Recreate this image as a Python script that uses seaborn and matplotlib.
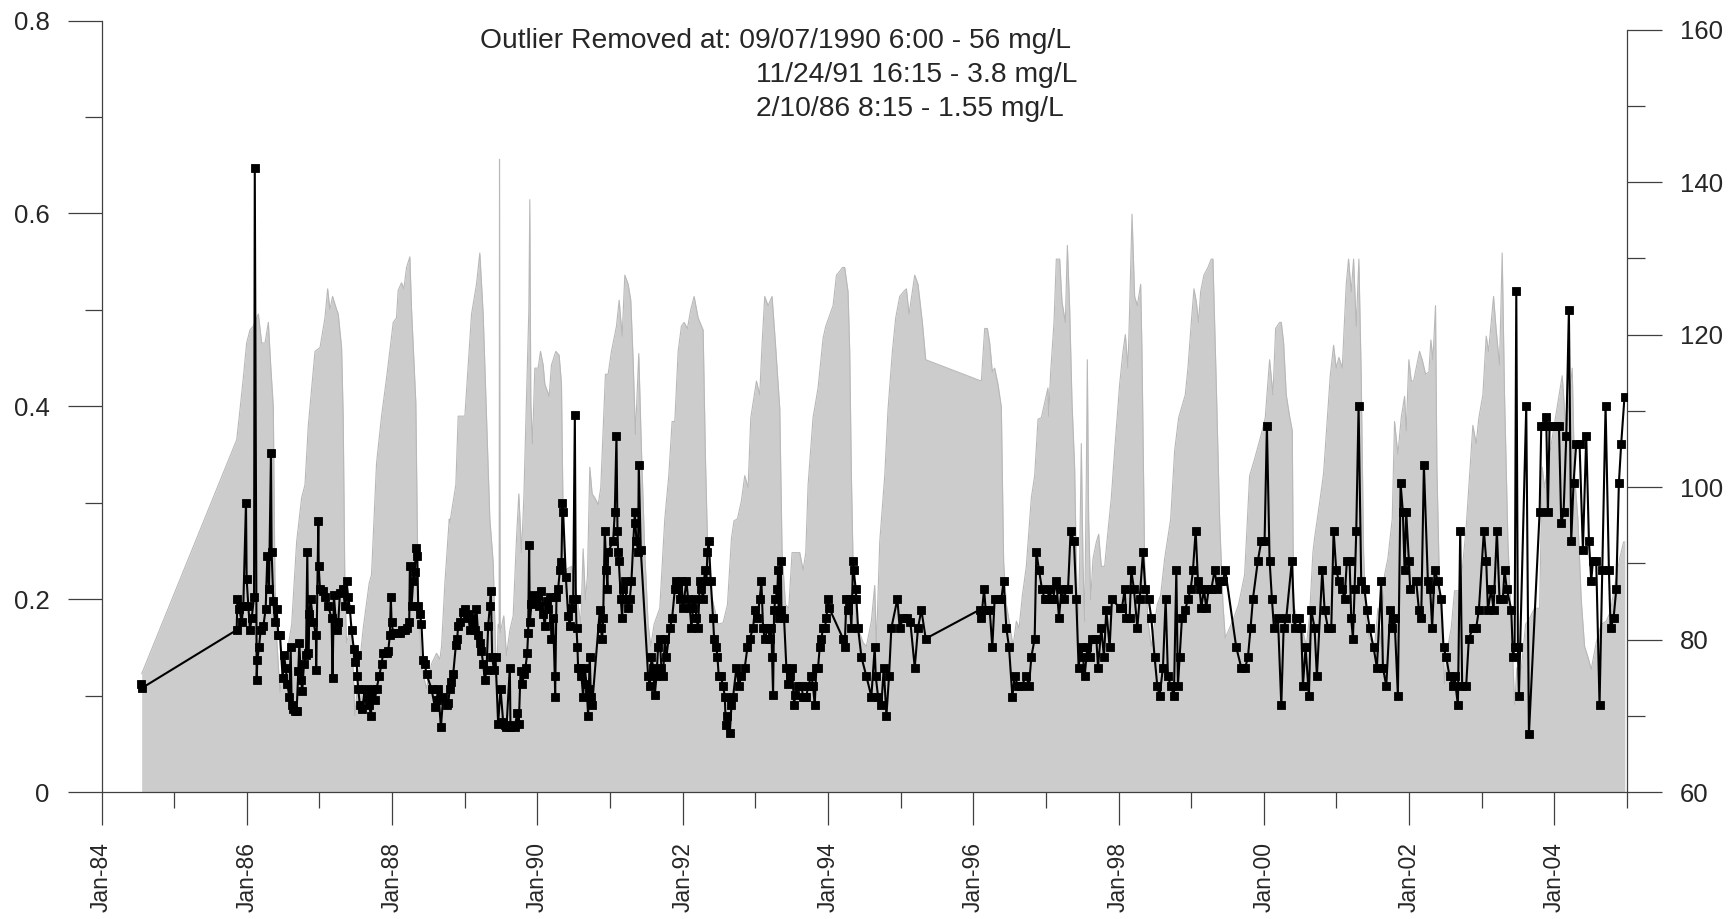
import numpy as np
import pandas as pd
import matplotlib
matplotlib.use('Agg')
import matplotlib.pyplot as plt
import seaborn as sns
from matplotlib.ticker import FixedLocator

# concentration (mg/L, left axis), decimal year of each sample
conc_year = [
    # 1984 - 1987
    1984.55, 1984.56, 1985.861, 1985.87, 1985.897, 1985.93, 1985.952, 1985.989, 1985.998, 1986.021,
    1986.044, 1986.067, 1986.10, 1986.11, 1986.136, 1986.145, 1986.168, 1986.191, 1986.228, 1986.26,
    1986.283, 1986.306, 1986.333, 1986.342, 1986.365, 1986.388, 1986.411, 1986.434, 1986.457, 1986.494,
    1986.512, 1986.535, 1986.558, 1986.586, 1986.604, 1986.618, 1986.641, 1986.664, 1986.686, 1986.709,
    1986.723, 1986.746, 1986.764, 1986.787, 1986.815, 1986.833, 1986.847, 1986.861, 1986.879, 1986.916,
    1986.952, 1986.955, 1986.985, 1986.99, 1987.008, 1987.044, 1987.076, 1987.122,
    # 1987 - 1990
    1987.167, 1987.181, 1987.199, 1987.236, 1987.259, 1987.282, 1987.327, 1987.35, 1987.373, 1987.396,
    1987.419, 1987.442, 1987.474, 1987.488, 1987.511, 1987.52, 1987.534, 1987.557, 1987.589, 1987.626,
    1987.649, 1987.685, 1987.708, 1987.731, 1987.763, 1987.786, 1987.823, 1987.855, 1987.878, 1987.924,
    1987.947, 1987.97, 1987.983, 1987.993, 1988.016, 1988.061, 1988.107, 1988.13, 1988.176, 1988.199,
    1988.236, 1988.245, 1988.268, 1988.291, 1988.314, 1988.327, 1988.346, 1988.36, 1988.383, 1988.405,
    1988.428, 1988.451, 1988.474, 1988.543, 1988.589, 1988.612, 1988.635, 1988.672, 1988.704, 1988.75,
    1988.772, 1988.795, 1988.818, 1988.841, 1988.878, 1988.896, 1988.91, 1988.933, 1988.97, 1989.002,
    1989.025, 1989.048, 1989.071, 1989.094, 1989.116, 1989.139, 1989.162, 1989.185, 1989.208, 1989.231,
    1989.254, 1989.277, 1989.3, 1989.323, 1989.346, 1989.36, 1989.378, 1989.401, 1989.424, 1989.46,
    1989.493, 1989.529, 1989.552, 1989.575, 1989.621, 1989.63, 1989.667, 1989.69, 1989.722, 1989.745,
    1989.768, 1989.795, 1989.814, 1989.837, 1989.86, 1989.873, 1989.887, 1989.896, 1989.919, 1989.942,
    1989.988, 1990.025, 1990.057, 1990.08, 1990.103, 1990.126, 1990.148, 1990.171, 1990.194, 1990.217,
    1990.24, 1990.245, 1990.263, 1990.286, 1990.309, 1990.332, 1990.346, 1990.355,
    # 1990 - 1993
    1990.392, 1990.424, 1990.447, 1990.47, 1990.493, 1990.516, 1990.529, 1990.539, 1990.552, 1990.561,
    1990.584, 1990.607, 1990.63, 1990.653, 1990.676, 1990.699, 1990.708, 1990.722, 1990.736, 1990.754,
    1990.86, 1990.873, 1990.892, 1990.906, 1990.928, 1990.951, 1990.965, 1990.974, 1991.043, 1991.066,
    1991.089, 1991.103, 1991.112, 1991.121, 1991.149, 1991.167, 1991.181, 1991.204, 1991.227, 1991.25,
    1991.272, 1991.295, 1991.341, 1991.35, 1991.364, 1991.387, 1991.396, 1991.424, 1991.525, 1991.548,
    1991.571, 1991.594, 1991.617, 1991.64, 1991.662, 1991.685, 1991.708, 1991.731, 1991.754, 1991.777,
    1991.823, 1991.855, 1991.892, 1991.915, 1991.938, 1991.961, 1991.983, 1992.006, 1992.052, 1992.075,
    1992.098, 1992.121, 1992.144, 1992.167, 1992.19, 1992.213, 1992.236, 1992.259, 1992.282, 1992.305,
    1992.328, 1992.341, 1992.36, 1992.387, 1992.419, 1992.433, 1992.465, 1992.479, 1992.497, 1992.525,
    1992.557, 1992.58, 1992.594, 1992.617, 1992.649, 1992.672, 1992.695, 1992.74, 1992.772, 1992.809,
    1992.855, 1992.892, 1992.924, 1992.97, 1992.993, 1993.029, 1993.061, 1993.084, 1993.107, 1993.13,
    1993.176, 1993.199, 1993.222, 1993.231, 1993.245, 1993.259, 1993.277, 1993.305, 1993.314, 1993.323,
    1993.351, 1993.36, 1993.396, 1993.428, 1993.451, 1993.474, 1993.506, 1993.534, 1993.552, 1993.589,
    # 1993 - 1997
    1993.635, 1993.658, 1993.681, 1993.704, 1993.727, 1993.773, 1993.795, 1993.818, 1993.841, 1993.864,
    1993.887, 1993.91, 1993.933, 1993.956, 1993.979, 1994.002, 1994.016, 1994.208, 1994.231, 1994.254,
    1994.277, 1994.3, 1994.323, 1994.346, 1994.355, 1994.383, 1994.392, 1994.415, 1994.461, 1994.529,
    1994.598, 1994.644, 1994.658, 1994.69, 1994.736, 1994.768, 1994.805, 1994.841, 1994.873, 1994.956,
    1994.988, 1995.034, 1995.089, 1995.135, 1995.195, 1995.24, 1995.286, 1995.346, 1996.089, 1996.112,
    1996.149, 1996.172, 1996.227, 1996.263, 1996.295, 1996.355, 1996.387, 1996.419, 1996.456, 1996.493,
    1996.539, 1996.571, 1996.617, 1996.663, 1996.731, 1996.768, 1996.8, 1996.846, 1996.869, 1996.906,
    # 1997 - 2000
    1996.947, 1996.984, 1997.02, 1997.052, 1997.075, 1997.098, 1997.144, 1997.181, 1997.213, 1997.25,
    1997.282, 1997.305, 1997.341, 1997.387, 1997.419, 1997.451, 1997.479, 1997.511, 1997.534, 1997.571,
    1997.603, 1997.635, 1997.695, 1997.718, 1997.763, 1997.8, 1997.832, 1997.878, 1997.91, 1998.016,
    1998.048, 1998.085, 1998.107, 1998.153, 1998.176, 1998.213, 1998.259, 1998.291, 1998.337, 1998.369,
    1998.415, 1998.452, 1998.497, 1998.534, 1998.566, 1998.612, 1998.649, 1998.681, 1998.718, 1998.763,
    1998.796, 1998.818, 1998.841, 1998.873, 1998.919, 1998.956, 1998.993, 1999.025, 1999.062, 1999.094,
    1999.117, 1999.14, 1999.176, 1999.208, 1999.24, 1999.277, 1999.323, 1999.36, 1999.392, 1999.438,
    1999.47, 1999.621, 1999.69, 1999.745, 1999.782, 1999.818, 1999.85, 1999.919, 1999.965, 2000.011,
    2000.043, 2000.08, 2000.112, 2000.14,
    # 2000 - 2003
    2000.195, 2000.241, 2000.273, 2000.309, 2000.387, 2000.424, 2000.447, 2000.484, 2000.516, 2000.539,
    2000.575, 2000.621, 2000.653, 2000.699, 2000.731, 2000.805, 2000.837, 2000.883, 2000.929, 2000.961,
    2000.997, 2001.034, 2001.08, 2001.112, 2001.144, 2001.181, 2001.204, 2001.227, 2001.25, 2001.273,
    2001.305, 2001.341, 2001.387, 2001.419, 2001.456, 2001.511, 2001.557, 2001.617, 2001.64, 2001.686,
    2001.741, 2001.768, 2001.8, 2001.846, 2001.883, 2001.915, 2001.938, 2001.961, 2001.997, 2002.016,
    2002.098, 2002.135, 2002.167, 2002.204, 2002.259, 2002.291, 2002.318, 2002.351, 2002.397, 2002.442,
    2002.474, 2002.511, 2002.557, 2002.603, 2002.626, 2002.672, 2002.704, 2002.731, 2002.786, 2002.823,
    2002.878, 2002.924, 2002.961, 2003.03, 2003.062, 2003.085, 2003.131, 2003.163, 2003.209, 2003.245,
    2003.291, 2003.314, 2003.346,
    # 2003 - 2005
    2003.407, 2003.43, 2003.453, 2003.476, 2003.498, 2003.512, 2003.613, 2003.65, 2003.797, 2003.82,
    2003.865, 2003.888, 2003.911, 2003.934, 2003.98, 2004.026, 2004.063, 2004.095, 2004.127, 2004.164,
    2004.2, 2004.232, 2004.264, 2004.301, 2004.347, 2004.393, 2004.439, 2004.476, 2004.508, 2004.531,
    2004.576, 2004.622, 2004.659, 2004.705, 2004.751, 2004.774, 2004.815, 2004.852, 2004.888, 2004.92,
    2004.966,
]
conc_mgl = [
    # 1984 - 1987
    0.112, 0.108, 0.168, 0.20, 0.19, 0.176, 0.193, 0.30, 0.221, 0.193,
    0.168, 0.18, 0.202, 0.647, 0.116, 0.137, 0.15, 0.168, 0.172, 0.19,
    0.245, 0.21, 0.352, 0.249, 0.198, 0.176, 0.19, 0.163, 0.163, 0.118,
    0.142, 0.129, 0.112, 0.099, 0.15, 0.09, 0.086, 0.084, 0.084, 0.125,
    0.155, 0.116, 0.105, 0.133, 0.142, 0.249, 0.144, 0.185, 0.20, 0.176,
    0.163, 0.127, 0.281, 0.234, 0.21, 0.208, 0.202, 0.193,
    # 1987 - 1990
    0.18, 0.118, 0.204, 0.168, 0.176, 0.206, 0.21, 0.193, 0.219, 0.202,
    0.19, 0.168, 0.148, 0.135, 0.142, 0.12, 0.107, 0.09, 0.086, 0.107,
    0.099, 0.09, 0.079, 0.107, 0.095, 0.107, 0.12, 0.133, 0.144, 0.144,
    0.146, 0.163, 0.202, 0.176, 0.165, 0.165, 0.165, 0.168, 0.168, 0.17,
    0.176, 0.234, 0.193, 0.219, 0.228, 0.253, 0.245, 0.193, 0.185, 0.174,
    0.137, 0.133, 0.122, 0.107, 0.088, 0.095, 0.107, 0.067, 0.099, 0.09,
    0.092, 0.107, 0.114, 0.122, 0.152, 0.159, 0.172, 0.176, 0.187, 0.19,
    0.18, 0.185, 0.168, 0.18, 0.172, 0.168, 0.19, 0.163, 0.155, 0.146,
    0.133, 0.116, 0.127, 0.172, 0.193, 0.208, 0.14, 0.127, 0.14, 0.071,
    0.107, 0.073, 0.069, 0.067, 0.129, 0.067, 0.069, 0.067, 0.082, 0.071,
    0.125, 0.112, 0.122, 0.129, 0.144, 0.165, 0.256, 0.176, 0.195, 0.204,
    0.20, 0.193, 0.208, 0.185, 0.172, 0.198, 0.19, 0.202, 0.159, 0.18,
    0.12, 0.099, 0.202, 0.21, 0.23, 0.238, 0.30, 0.29,
    # 1990 - 1993
    0.223, 0.183, 0.172, 0.191, 0.20, 0.391, 0.20, 0.17, 0.15, 0.129,
    0.129, 0.12, 0.099, 0.129, 0.112, 0.079, 0.107, 0.14, 0.099, 0.09,
    0.189, 0.17, 0.159, 0.18, 0.271, 0.23, 0.21, 0.249, 0.26, 0.29,
    0.369, 0.271, 0.249, 0.24, 0.20, 0.18, 0.21, 0.219, 0.20, 0.191,
    0.20, 0.219, 0.29, 0.279, 0.26, 0.249, 0.339, 0.251, 0.12, 0.11,
    0.14, 0.129, 0.101, 0.12, 0.15, 0.159, 0.129, 0.12, 0.159, 0.14,
    0.17, 0.18, 0.21, 0.219, 0.21, 0.20, 0.219, 0.191, 0.219, 0.20,
    0.191, 0.17, 0.191, 0.20, 0.18, 0.17, 0.219, 0.21, 0.20, 0.23,
    0.219, 0.249, 0.26, 0.219, 0.18, 0.159, 0.15, 0.14, 0.12, 0.12,
    0.11, 0.099, 0.069, 0.079, 0.061, 0.09, 0.099, 0.129, 0.11, 0.12,
    0.129, 0.15, 0.159, 0.17, 0.189, 0.18, 0.20, 0.219, 0.17, 0.159,
    0.17, 0.159, 0.17, 0.14, 0.101, 0.189, 0.20, 0.21, 0.23, 0.18,
    0.24, 0.189, 0.18, 0.129, 0.112, 0.12, 0.129, 0.09, 0.101, 0.11,
    # 1993 - 1997
    0.11, 0.099, 0.099, 0.099, 0.11, 0.12, 0.11, 0.09, 0.129, 0.129,
    0.15, 0.159, 0.17, 0.17, 0.18, 0.20, 0.191, 0.159, 0.15, 0.20,
    0.189, 0.20, 0.17, 0.24, 0.23, 0.21, 0.20, 0.17, 0.14, 0.12,
    0.099, 0.15, 0.12, 0.099, 0.09, 0.129, 0.079, 0.12, 0.17, 0.20,
    0.17, 0.18, 0.18, 0.176, 0.129, 0.17, 0.189, 0.159, 0.189, 0.18,
    0.21, 0.189, 0.189, 0.15, 0.20, 0.20, 0.20, 0.219, 0.17, 0.15,
    0.099, 0.12, 0.11, 0.11, 0.12, 0.11, 0.14, 0.159, 0.249, 0.23,
    # 1997 - 2000
    0.21, 0.20, 0.20, 0.21, 0.20, 0.20, 0.219, 0.18, 0.21, 0.20,
    0.21, 0.21, 0.271, 0.26, 0.20, 0.129, 0.15, 0.14, 0.12, 0.15,
    0.14, 0.159, 0.159, 0.129, 0.17, 0.14, 0.189, 0.15, 0.20, 0.191,
    0.191, 0.21, 0.18, 0.18, 0.23, 0.21, 0.17, 0.20, 0.249, 0.21,
    0.20, 0.18, 0.14, 0.11, 0.10, 0.129, 0.20, 0.12, 0.11, 0.10,
    0.23, 0.11, 0.14, 0.18, 0.189, 0.20, 0.21, 0.23, 0.271, 0.219,
    0.21, 0.191, 0.21, 0.191, 0.21, 0.21, 0.23, 0.21, 0.219, 0.219,
    0.23, 0.15, 0.129, 0.129, 0.14, 0.17, 0.20, 0.24, 0.26, 0.26,
    0.38, 0.24, 0.20, 0.17,
    # 2000 - 2003
    0.18, 0.09, 0.17, 0.18, 0.24, 0.17, 0.18, 0.18, 0.17, 0.11,
    0.15, 0.10, 0.189, 0.17, 0.12, 0.23, 0.189, 0.17, 0.17, 0.271,
    0.23, 0.219, 0.21, 0.20, 0.24, 0.24, 0.18, 0.159, 0.21, 0.271,
    0.40, 0.219, 0.21, 0.189, 0.17, 0.15, 0.129, 0.219, 0.129, 0.11,
    0.189, 0.17, 0.18, 0.10, 0.32, 0.29, 0.23, 0.29, 0.24, 0.21,
    0.219, 0.189, 0.18, 0.339, 0.219, 0.21, 0.17, 0.23, 0.219, 0.20,
    0.15, 0.14, 0.12, 0.11, 0.12, 0.09, 0.271, 0.11, 0.11, 0.159,
    0.17, 0.17, 0.189, 0.271, 0.24, 0.189, 0.21, 0.189, 0.271, 0.20,
    0.20, 0.23, 0.21,
    # 2003 - 2005
    0.189, 0.14, 0.15, 0.52, 0.15, 0.10, 0.40, 0.06, 0.29, 0.38,
    0.38, 0.389, 0.29, 0.38, 0.38, 0.38, 0.38, 0.279, 0.29, 0.369,
    0.50, 0.26, 0.32, 0.361, 0.361, 0.251, 0.369, 0.26, 0.219, 0.24,
    0.24, 0.09, 0.23, 0.40, 0.23, 0.17, 0.18, 0.21, 0.32, 0.361,
    0.41,
]

# stream flow (right axis)
flow_year = [
    1984.553, 1985.861, 1985.897, 1985.952, 1985.998, 1986.044, 1986.089, 1986.159, 1986.205, 1986.251,
    1986.297, 1986.329, 1986.365, 1986.388, 1986.411, 1986.457, 1986.494, 1986.549, 1986.618, 1986.686,
    1986.755, 1986.801, 1986.847, 1986.939, 1987.008, 1987.076, 1987.113, 1987.144, 1987.181, 1987.236,
    1987.259, 1987.305, 1987.327, 1987.35, 1987.373, 1987.442, 1987.488, 1987.534, 1987.603, 1987.685,
    1987.717, 1987.786, 1987.855, 1987.924, 1988.016, 1988.061, 1988.084, 1988.13, 1988.162, 1988.199,
    1988.245, 1988.268, 1988.327, 1988.346, 1988.36, 1988.405, 1988.474, 1988.543, 1988.612, 1988.658,
    1988.681, 1988.727, 1988.787, 1988.795, 1988.878, 1988.91, 1989.002, 1989.094, 1989.162, 1989.208,
    1989.254, 1989.3, 1989.346, 1989.392, 1989.424, 1989.438, 1989.46, 1989.474, 1989.479, 1989.488,
    1989.538, 1989.575, 1989.621, 1989.667, 1989.713, 1989.745, 1989.782, 1989.814, 1989.851, 1989.883,
    1989.896, 1989.91, 1989.933, 1989.965, 1990.011, 1990.043, 1990.08, 1990.103, 1990.162, 1990.194,
    1990.254, 1990.3, 1990.332, 1990.355, 1990.378, 1990.47, 1990.516, 1990.561, 1990.598, 1990.63,
    1990.662, 1990.69, 1990.722, 1990.754, 1990.791, 1990.837, 1990.873, 1990.937, 1990.974, 1991.02,
    1991.089, 1991.126, 1991.167, 1991.204, 1991.25, 1991.286, 1991.318, 1991.35, 1991.396, 1991.433,
    1991.479, 1991.525, 1991.561, 1991.607, 1991.685, 1991.754, 1991.809, 1991.855, 1991.892, 1991.938,
    1991.983, 1992.02, 1992.066, 1992.112, 1992.158, 1992.213, 1992.282, 1992.314, 1992.341, 1992.36,
    1992.397, 1992.488, 1992.557, 1992.617, 1992.672, 1992.708, 1992.754, 1992.809, 1992.855, 1992.901,
    1992.938, 1992.97, 1993.016, 1993.061, 1993.094, 1993.13, 1993.176, 1993.231, 1993.277, 1993.337,
    1993.369, 1993.415, 1993.461, 1993.506, 1993.566, 1993.612, 1993.658, 1993.695, 1993.727, 1993.795,
    1993.864, 1993.933, 1993.97, 1994.071, 1994.117, 1994.162, 1994.199, 1994.231, 1994.277, 1994.3,
    1994.323, 1994.346, 1994.392, 1994.484, 1994.529, 1994.598, 1994.644, 1994.667, 1994.713, 1994.782,
    1994.828, 1994.887, 1994.933, 1994.988, 1995.057, 1995.08, 1995.117, 1995.195, 1995.24, 1995.3,
    1995.346, 1996.112, 1996.158, 1996.195, 1996.227, 1996.263, 1996.295, 1996.341, 1996.387, 1996.419,
    1996.456, 1996.502, 1996.548, 1996.594, 1996.631, 1996.677, 1996.731, 1996.8, 1996.846, 1996.892,
    1996.938, 1996.984, 1997.029, 1997.039, 1997.066, 1997.112, 1997.144, 1997.19, 1997.222, 1997.268,
    1997.296, 1997.328, 1997.36, 1997.396, 1997.419, 1997.442, 1997.465, 1997.488, 1997.511, 1997.534,
    1997.557, 1997.571, 1997.589, 1997.617, 1997.649, 1997.695, 1997.727, 1997.763, 1997.809, 1997.855,
    1997.901, 1997.947, 1998.016, 1998.062, 1998.094, 1998.13, 1998.153, 1998.186, 1998.222, 1998.259,
    1998.305, 1998.323, 1998.36, 1998.406, 1998.451, 1998.488, 1998.534, 1998.58, 1998.635, 1998.718,
    1998.773, 1998.828, 1998.864, 1998.919, 1998.956, 1999.002, 1999.039, 1999.071, 1999.103, 1999.13,
    1999.176, 1999.231, 1999.277, 1999.3, 1999.346, 1999.392, 1999.438, 1999.47, 1999.529, 1999.598,
    1999.653, 1999.736, 1999.805, 1999.874, 1999.919, 1999.965, 2000.02, 2000.08, 2000.126, 2000.163,
    2000.218, 2000.241, 2000.273, 2000.309, 2000.355, 2000.392, 2000.41, 2000.447, 2000.516, 2000.585,
    2000.63, 2000.676, 2000.699, 2000.768, 2000.823, 2000.86, 2000.915, 2000.961, 2000.997, 2001.034,
    2001.08, 2001.135, 2001.167, 2001.204, 2001.236, 2001.273, 2001.309, 2001.341, 2001.374, 2001.41,
    2001.456, 2001.525, 2001.571, 2001.617, 2001.663, 2001.708, 2001.768, 2001.8, 2001.846, 2001.892,
    2001.938, 2001.961, 2001.997, 2002.03, 2002.062, 2002.098, 2002.144, 2002.181, 2002.227, 2002.273,
    2002.3, 2002.328, 2002.364, 2002.383, 2002.419, 2002.465, 2002.488, 2002.534, 2002.58, 2002.626,
    2002.672, 2002.704, 2002.74, 2002.786, 2002.833, 2002.878, 2002.924, 2002.961, 2003.016, 2003.062,
    2003.094, 2003.163, 2003.199, 2003.245, 2003.282, 2003.314, 2003.361, 2003.407, 2003.453, 2003.485,
    2003.544, 2003.604, 2003.659, 2003.728, 2003.797, 2003.833, 2003.865, 2003.934, 2003.998, 2004.063,
    2004.108, 2004.164, 2004.209, 2004.246, 2004.278, 2004.324, 2004.37, 2004.416, 2004.462, 2004.508,
    2004.576, 2004.645, 2004.714, 2004.769, 2004.829, 2004.898, 2004.953, 2004.97,
]
flow_cfs = [
    75.5, 106.2, 109.3, 114.3, 118.9, 120.6, 121.1, 122.7, 118.9, 118.9,
    121.6, 116.0, 110.5, 87.4, 80.2, 73.1, 76.3, 77.9, 82.0, 92.8,
    98.6, 100.3, 108.1, 117.8, 118.3, 122.2, 126.0, 123.3, 125.0, 123.3,
    122.7, 118.3, 109.3, 87.4, 79.6, 82.0, 70.0, 75.2, 81.5, 87.4,
    88.5, 103.1, 109.3, 114.3, 121.6, 122.2, 125.8, 126.8, 126.0, 128.8,
    130.2, 123.3, 111.1, 95.8, 85.8, 76.3, 73.6, 76.8, 78.2, 77.4,
    79.1, 87.4, 95.8, 95.3, 100.3, 109.3, 109.3, 122.7, 126.6, 130.7,
    122.7, 109.3, 95.8, 90.1, 79.1, 73.6, 82.0, 81.5, 143.0, 80.9,
    83.1, 77.9, 81.2, 83.1, 93.3, 99.1, 91.4, 98.6, 112.1, 123.3,
    137.7, 111.1, 105.7, 115.6, 115.6, 117.8, 116.0, 113.5, 111.9, 116.0,
    117.8, 117.3, 113.5, 95.8, 89.1, 89.6, 87.4, 84.6, 82.0, 91.9,
    85.2, 88.5, 102.6, 99.1, 98.6, 97.7, 99.9, 114.8, 114.8, 117.8,
    121.1, 124.5, 119.8, 127.8, 126.6, 124.5, 116.7, 106.9, 117.5, 104.8,
    91.4, 82.0, 79.1, 82.0, 84.1, 95.8, 101.5, 108.6, 108.6, 117.8,
    121.1, 121.6, 120.8, 123.3, 125.0, 122.2, 120.6, 103.7, 93.3, 90.1,
    85.8, 82.0, 82.2, 84.6, 93.3, 95.6, 95.8, 98.2, 101.5, 99.9,
    109.1, 111.1, 113.9, 112.1, 118.9, 125.0, 123.8, 125.0, 118.9, 110.3,
    91.4, 84.6, 84.1, 91.4, 91.4, 91.4, 89.1, 91.4, 100.3, 109.1,
    113.0, 119.5, 121.1, 123.8, 127.8, 128.3, 128.8, 128.8, 125.6, 117.8,
    101.5, 90.1, 82.0, 79.6, 79.1, 82.4, 87.1, 79.1, 92.8, 101.5,
    110.3, 117.8, 122.2, 125.0, 125.8, 126.0, 122.7, 127.8, 126.6, 121.6,
    116.7, 113.9, 120.8, 120.8, 118.9, 115.1, 115.6, 113.5, 110.5, 90.1,
    84.6, 82.0, 79.1, 82.4, 81.5, 85.8, 89.6, 98.6, 101.5, 108.9,
    109.1, 111.1, 113.0, 109.3, 115.1, 121.6, 129.9, 129.9, 124.3, 121.6,
    131.7, 123.3, 111.1, 102.6, 90.1, 80.9, 90.1, 105.7, 90.1, 82.4,
    101.5, 116.7, 95.8, 85.2, 90.6, 92.8, 93.8, 89.6, 89.6, 94.2,
    98.6, 104.8, 113.5, 117.8, 120.0, 115.6, 123.3, 135.8, 125.0, 123.8,
    126.6, 117.8, 90.1, 82.4, 79.1, 81.5, 84.6, 85.8, 90.6, 95.8,
    104.8, 109.1, 110.3, 112.1, 115.6, 121.6, 126.0, 124.3, 121.6, 125.6,
    127.8, 128.8, 129.9, 129.9, 113.5, 95.8, 84.6, 80.2, 81.5, 83.1,
    84.6, 88.5, 101.5, 103.7, 105.3, 106.9, 109.1, 116.7, 112.1, 120.8,
    121.6, 121.6, 118.9, 112.1, 109.3, 107.4, 84.6, 83.1, 82.0, 79.1,
    83.1, 91.4, 93.3, 97.9, 101.8, 106.9, 114.6, 118.6, 115.6, 117.0,
    115.6, 126.6, 129.9, 125.6, 129.9, 121.1, 129.9, 114.6, 91.4, 82.0,
    80.2, 79.1, 84.1, 79.1, 88.5, 90.6, 95.8, 108.6, 104.3, 109.1,
    111.9, 107.4, 116.7, 113.9, 113.9, 115.6, 117.8, 116.7, 114.8, 115.1,
    119.3, 116.7, 123.8, 102.6, 86.9, 80.2, 74.2, 79.1, 81.5, 86.4,
    86.4, 86.4, 90.1, 94.7, 101.5, 108.1, 105.7, 109.1, 112.1, 119.8,
    117.8, 125.0, 120.6, 116.0, 130.7, 112.1, 92.8, 82.0, 71.5, 76.3,
    76.1, 82.0, 82.8, 84.1, 84.1, 102.6, 99.9, 104.3, 108.1, 111.9,
    114.6, 106.9, 112.1, 115.6, 101.5, 95.8, 85.2, 79.1, 77.7, 76.1,
    79.6, 82.0, 82.4, 83.6, 86.9, 90.6, 92.8, 92.8,
]

# axis ticks and labels
year_major = [1984, 1986, 1988, 1990, 1992, 1994, 1996, 1998, 2000, 2002, 2004]
year_minor = [1985, 1987, 1989, 1991, 1993, 1995, 1997, 1999, 2001, 2003, 2005]
year_labels = ['Jan-84', 'Jan-86', 'Jan-88', 'Jan-90', 'Jan-92', 'Jan-94',
               'Jan-96', 'Jan-98', 'Jan-00', 'Jan-02', 'Jan-04']
conc_ticks = [0, 0.2, 0.4, 0.6, 0.8]
conc_labels = ['0', '0.2', '0.4', '0.6', '0.8']
flow_ticks = [60, 80, 100, 120, 140, 160]
flow_labels = ['60', '80', '100', '120', '140', '160']

note_line1 = 'Outlier Removed at: 09/07/1990 6:00 - 56 mg/L'
note_lines = ['11/24/91 16:15 - 3.8 mg/L', '2/10/86 8:15 - 1.55 mg/L']

assert len(conc_year) == len(conc_mgl)
assert len(flow_year) == len(flow_cfs)

conc_df = pd.DataFrame({'year': conc_year, 'conc': conc_mgl})
flow_df = pd.DataFrame({'year': flow_year, 'flow': flow_cfs})

sns.set_theme(style='ticks')
plt.rcParams['font.family'] = ['Liberation Sans', 'DejaVu Sans']

fig, ax = plt.subplots(figsize=(17.3, 9.19), dpi=100)
fig.subplots_adjust(left=101.5 / 1730, right=1627 / 1730,
                    bottom=1 - 792 / 919, top=1 - 20.5 / 919)
ax2 = ax.twinx()
ax.set_zorder(ax2.get_zorder() + 1)
ax.patch.set_visible(False)

# flow as grey area behind
ax2.fill_between(flow_df['year'], 60, flow_df['flow'], color='#cccccc', lw=0)
sns.lineplot(data=flow_df, x='year', y='flow', ax=ax2, color='#b8b8b8', lw=0.8,
             sort=False, estimator=None)

# concentration series
sns.lineplot(data=conc_df, x='year', y='conc', ax=ax, color='black', lw=1.5,
             marker='s', markersize=5.5, markeredgecolor='black', markeredgewidth=0.6,
             sort=False, estimator=None)

ax.set_xlim(1984, 2005)
ax.set_ylim(0, 0.8)
# the right scale tops out at 160 a little below the frame top
ax2.set_ylim(60, 161.2)
ax.set_xlabel('')
ax.set_ylabel('')
ax2.set_xlabel('')
ax2.set_ylabel('')

ax.xaxis.set_major_locator(FixedLocator(year_major))
ax.xaxis.set_minor_locator(FixedLocator(year_minor))
ax.set_xticklabels(year_labels)
ax.yaxis.set_major_locator(FixedLocator(conc_ticks))
ax.yaxis.set_minor_locator(FixedLocator([0.1, 0.3, 0.5, 0.7]))
ax.set_yticklabels(conc_labels)
ax2.yaxis.set_major_locator(FixedLocator(flow_ticks))
ax2.yaxis.set_minor_locator(FixedLocator([70, 90, 110, 130, 150]))
ax2.set_yticklabels(flow_labels)

axis_col = '#404040'
for s in ['top', 'right']:
    ax.spines[s].set_visible(False)
for s in ['top', 'left', 'bottom']:
    ax2.spines[s].set_visible(False)
ax2.spines['right'].set_bounds(60, 160)
for sp in [ax.spines['left'], ax.spines['bottom'], ax2.spines['right']]:
    sp.set_color(axis_col)
    sp.set_linewidth(0.9)

ax.tick_params(axis='x', which='major', length=24, width=0.9, pad=12,
               labelsize=16.5, labelrotation=90, color=axis_col, top=False)
ax.tick_params(axis='x', which='minor', length=11.5, width=0.9, color=axis_col, top=False)
ax.tick_params(axis='y', which='major', length=24.5, width=0.9, pad=13,
               labelsize=18.5, color=axis_col, right=False)
ax.tick_params(axis='y', which='minor', length=12, width=0.9, color=axis_col, right=False)
ax2.tick_params(axis='y', which='major', length=25, width=0.9, pad=13,
                labelsize=18.5, color=axis_col, left=False)
ax2.tick_params(axis='y', which='minor', length=13, width=0.9, color=axis_col, left=False)
ax2.tick_params(axis='x', which='both', bottom=False, top=False, labelbottom=False)
ax.grid(False)
ax2.grid(False)

# outlier note
fig.text(480 / 1730, 1 - 48 / 919, note_line1, fontsize=20.3, va='baseline', ha='left')
for i, line in enumerate(note_lines):
    fig.text(756 / 1730, 1 - (82 + 33.5 * i) / 919, line, fontsize=20.3,
             va='baseline', ha='left')

fig.savefig('out.png', dpi=100)
